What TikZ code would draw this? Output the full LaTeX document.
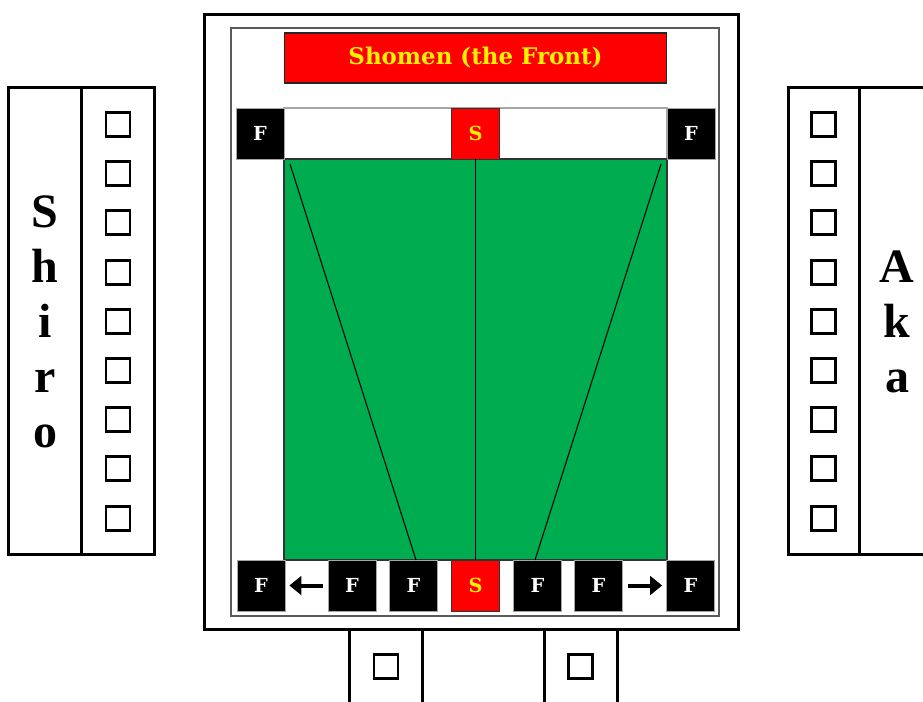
\documentclass[tikz,border=0pt]{standalone}
\usepackage{fontspec}
\setmainfont{Liberation Serif}
\newfontfamily\dvs{DejaVu Serif}
\usetikzlibrary{arrows.meta}
\definecolor{courtgreen}{RGB}{0,172,80}
\definecolor{framegray}{RGB}{90,90,90}
\begin{document}
\begin{tikzpicture}[x=0.75pt,y=-0.75pt,
  fbox/.style={fill=black, draw=gray!70, line width=0.6pt, minimum width=36pt, minimum height=38.25pt, inner sep=0pt, text=white, font=\dvs\bfseries\fontsize{14.5}{16}\selectfont},
  sbox/.style={fbox, fill=red, text=yellow, draw=black!80},
  seat/.style={draw=black, line width=2.2pt, minimum size=18pt, inner sep=0pt},
  panel/.style={draw=black, line width=2.25pt},
  arr/.style={line width=3pt, -{Triangle[length=9pt,width=14pt]}},
  team/.style={align=center, inner sep=0pt, font=\bfseries\fontsize{36}{41.25}\selectfont},
]
\useasboundingbox (0,0) rectangle (923,701);

% outer and inner frames
\draw[line width=2.25pt] (204,14) rectangle (738,629);
\draw[framegray, line width=1.3pt] (231,28) rectangle (719,616);

% Shomen
\node[fill=red, draw=black!85, line width=1pt, minimum width=286.5pt, minimum height=37.5pt, inner sep=0pt,
      text=yellow, font=\dvs\bfseries\fontsize{17.2}{19}\selectfont] (shomen) at (475.5,58) {Shomen (the Front)};

% top strip and court
\draw[gray!70, line width=0.8pt, fill=white] (284,108) rectangle (667,159);
\draw[black!80, line width=0.8pt, fill=courtgreen] (284,159) rectangle (667,560);

% top row
\node[fbox] (tf1) at (260,133.5) {F};
\node[sbox] (ts) at (475.5,133.5) {S};
\node[fbox] (tf2) at (691,133.5) {F};

% bottom row
\node[fbox] (bf1) at (261,585.5) {F};
\node[fbox] (bf2) at (352,585.5) {F};
\node[fbox] (bf3) at (413.5,585.5) {F};
\node[sbox] (bs) at (475.5,585.5) {S};
\node[fbox] (bf4) at (537.5,585.5) {F};
\node[fbox] (bf5) at (598.5,585.5) {F};
\node[fbox] (bf6) at (690.5,585.5) {F};

% lines on the court
\draw[line width=0.9pt] (ts.south) -- (bs.north);
\coordinate (dl1) at (290,164);
\coordinate (dl2) at (416,560);
\coordinate (dr1) at (661,164);
\coordinate (dr2) at (535,560);
\draw[line width=0.8pt] (dl1) -- (dl2);
\draw[line width=0.8pt] (dr1) -- (dr2);

% arrows
\draw[arr, shorten <=3.5pt, shorten >=3pt] (bf2.west) -- (bf1.east);
\draw[arr, shorten <=3.5pt, shorten >=3pt] (bf5.east) -- (bf6.west);

% left panel (Shiro)
\draw[panel] (8,87) rectangle (154,554);
\draw[panel] (81,87) -- (81,554);
\foreach \i in {0,...,8} {
  \node[seat] (ls\i) at (118,{124.5+49.2*\i}) {};
}
\node[team] (shiro) at (45,322) {S\\h\\i\\r\\o};

% right panel (Aka)
\draw[panel] (935,87) -- (788,87) -- (788,554) -- (935,554);
\draw[panel] (859,87) -- (859,554);
\foreach \i in {0,...,8} {
  \node[seat] (rs\i) at (823.5,{124.5+49.2*\i}) {};
}
\node[team] (aka) at (897,322) {A\\k\\a};

% bottom seats
\draw[panel] (349,629) -- (349,712);
\draw[panel] (422,629) -- (422,712);
\draw[panel] (544,629) -- (544,712);
\draw[panel] (617,629) -- (617,712);
\node[seat] (b1) at (386,666.5) {};
\node[seat] (b2) at (580.5,666.5) {};
\end{tikzpicture}
\end{document}
